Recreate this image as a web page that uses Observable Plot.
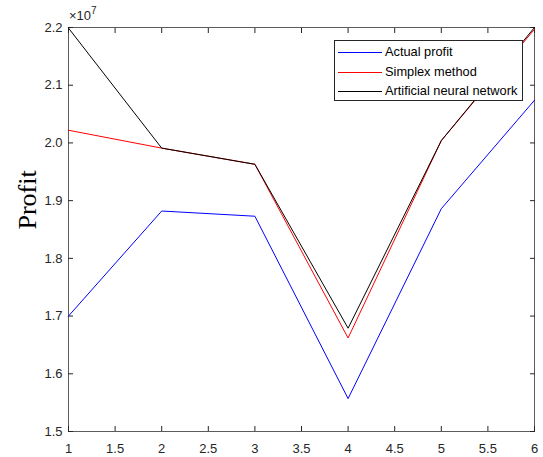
<!DOCTYPE html>
<html>
<head>
<meta charset="utf-8">
<script src="https://cdn.jsdelivr.net/npm/d3@7"></script>
<script src="https://cdn.jsdelivr.net/npm/@observablehq/plot@0.6"></script>
<style>
  html, body { margin: 0; padding: 0; background: #fff; }
  #wrap { position: relative; width: 543px; height: 457px; font-family: "Liberation Sans", Arial, sans-serif; }
  #legend { position: absolute; left: 334px; top: 40px; width: 189px; height: 61px; box-sizing: border-box;
            border: 1px solid #262626; background: #fff; font-size: 12.8px; color: #000; }
  #legend .row { position: absolute; left: 0; height: 16px; white-space: nowrap; }
  #legend .row svg { position: absolute; left: 3px; top: 0; }
  #legend .row span { position: absolute; left: 50px; top: 0; line-height: 16px; }
  #exp { position: absolute; left: 69px; top: 6px; font-size: 13px; color: #262626; }
  #exp sup { font-size: 10px; position: relative; top: -1px; }
</style>
</head>
<body>
<div id="wrap">
  <div id="chart"></div>
  <div id="exp">×10<sup>7</sup></div>
  <div id="legend"></div>
</div>
<script>
const xValues = [1, 2, 3, 4, 5, 6];
const actualProfit = [1.700e7, 1.882e7, 1.873e7, 1.557e7, 1.886e7, 2.074e7];
const simplexMethod = [2.022e7, 1.991e7, 1.963e7, 1.662e7, 2.004e7, 2.197e7];
const annProfit = [2.199e7, 1.991e7, 1.963e7, 1.679e7, 2.004e7, 2.200e7];
const seriesNames = ["Actual profit", "Simplex method", "Artificial neural network"];
const seriesColors = ["#0000ff", "#ff0000", "#000000"];
const xTicks = [1, 1.5, 2, 2.5, 3, 3.5, 4, 4.5, 5, 5.5, 6];
const yTicks = [1.5e7, 1.6e7, 1.7e7, 1.8e7, 1.9e7, 2.0e7, 2.1e7, 2.2e7];
const yLabel = "Profit";

const seriesValues = [actualProfit, simplexMethod, annProfit];
const rows = [];
seriesValues.forEach((vals, i) => vals.forEach((v, j) => rows.push({x: xValues[j], y: v, s: seriesNames[i]})));

const axisColor = "#262626";
const fmtY = d => (d / 1e7).toFixed(1);

const plot = Plot.plot({
  width: 543,
  height: 457,
  marginLeft: 68,
  marginRight: 9,
  marginTop: 27,
  marginBottom: 26,
  style: {fontFamily: "Liberation Sans, Arial, sans-serif", fontSize: "13px", color: axisColor, background: "#fff"},
  x: {domain: [1, 6]},
  y: {domain: [1.5e7, 2.2e7]},
  marks: [
    Plot.axisX(xTicks, {anchor: "bottom", tickSize: -5, tickPadding: 17, tickFormat: d => String(d), label: null, stroke: axisColor, fill: axisColor, fontSize: 13}),
    Plot.axisX(xTicks, {anchor: "top", tickSize: -5, tickFormat: () => "", label: null, stroke: axisColor}),
    Plot.axisY(yTicks, {anchor: "left", tickSize: -5, tickPadding: 11, tickFormat: fmtY, label: null, stroke: axisColor, fill: axisColor, fontSize: 13}),
    Plot.axisY(yTicks, {anchor: "right", tickSize: -5, tickFormat: () => "", label: null, stroke: axisColor}),
    Plot.frame({stroke: axisColor, strokeOpacity: 0.75}),
    ...seriesNames.map((name, i) =>
      Plot.line(rows.filter(r => r.s === name), {x: "x", y: "y", stroke: seriesColors[i], strokeWidth: 1})
    ),
    Plot.text([yLabel], {frameAnchor: "left", dx: -41, rotate: -90, fontFamily: "Liberation Serif, Times New Roman, serif", fontSize: 26, fill: "#000"})
  ]
});
document.getElementById("chart").appendChild(plot);

const legend = document.getElementById("legend");
const rowCenters = [11, 30.5, 50];
seriesNames.forEach((name, i) => {
  const row = document.createElement("div");
  row.className = "row";
  row.style.top = (rowCenters[i] - 8) + "px";
  row.innerHTML = `<svg width="44" height="16"><line x1="0" x2="44" y1="8.5" y2="8.5" stroke="${seriesColors[i]}" stroke-width="1"/></svg>`;
  const t = document.createElement("span");
  t.textContent = name;
  row.appendChild(t);
  legend.appendChild(row);
});
</script>
</body>
</html>
